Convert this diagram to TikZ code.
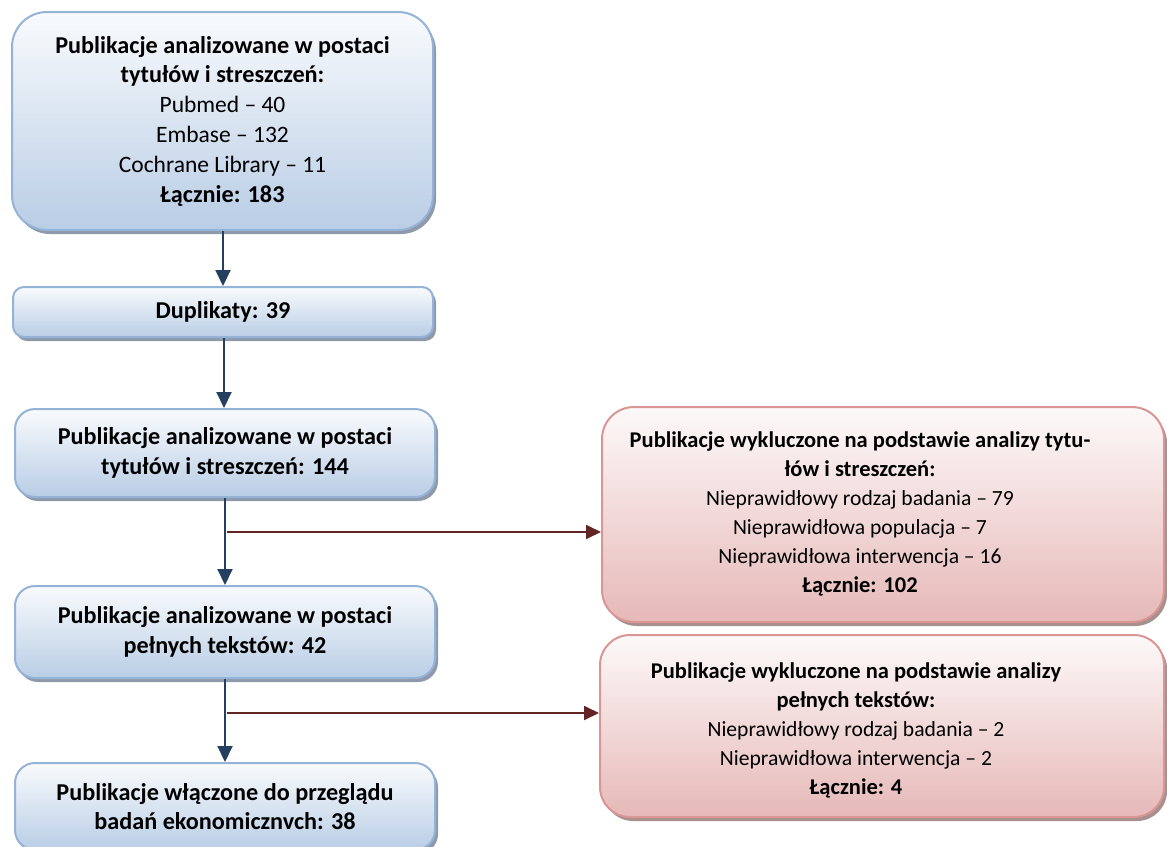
\documentclass[tikz,border=0pt]{standalone}
\usepackage{fontspec}
\setmainfont{Carlito}
\usetikzlibrary{shadows,arrows.meta,calc}
\definecolor{bfill}{HTML}{B9CDE5}
\definecolor{btop}{HTML}{F9FBFD}
\definecolor{bline}{HTML}{95B3D7}
\definecolor{rfill}{HTML}{E6B9B8}
\definecolor{rtop}{HTML}{FDF9F9}
\definecolor{rline}{HTML}{D99694}
\definecolor{barrow}{HTML}{243F60}
\definecolor{rarrow}{HTML}{632523}
\definecolor{bshadow}{HTML}{8E9AAB}
\definecolor{rshadow}{HTML}{A8908F}
\newcommand\blbold[1]{{\fontsize{24.2}{29.8}\selectfont\bfseries #1}}
\newcommand\rdbold[1]{{\fontsize{22.5}{29}\selectfont\bfseries #1}}
\begin{document}
\begin{tikzpicture}[x=1pt,y=-1pt,
  btxt/.style={align=center, inner sep=0pt, font=\fontsize{23.5}{29.8}\selectfont},
  rtxt/.style={align=center, inner sep=0pt, font=\fontsize{21.6}{29}\selectfont},
  bluebox/.style={btxt, draw=bline, line width=2pt, top color=btop, bottom color=bfill,
    drop shadow={shadow xshift=3pt, shadow yshift=-4pt, fill=bshadow, opacity=1}},
  redbox/.style={draw=rline, line width=2pt, top color=rtop, bottom color=rfill, inner sep=0pt,
    drop shadow={shadow xshift=3pt, shadow yshift=-4pt, fill=rshadow, opacity=1}},
  barr/.style={draw=barrow, line width=2pt, -{Triangle[width=15pt,length=16pt]}},
  rarr/.style={draw=rarrow, line width=1.8pt, -{Triangle[width=14pt,length=15pt]}}
]
\useasboundingbox (0,0) rectangle (1167,846);
\fill[white] (0,0) rectangle (1167,846);

\node[bluebox, minimum width=421pt, minimum height=218pt, rounded corners=35pt] (b1) at (222.5,121)
  {\blbold{Publikacje analizowane w postaci}\\ \blbold{tytułów i streszczeń:}\\ Pubmed – 40\\ Embase – 132\\ Cochrane Library – 11\\ \blbold{Łącznie: 183}};
\node[bluebox, minimum width=420pt, minimum height=50pt, rounded corners=11pt] (b2) at (223,312)
  {\blbold{Duplikaty: 39}};
\node[bluebox, minimum width=420pt, minimum height=88pt, rounded corners=20pt] (b3) at (225,453)
  {\blbold{Publikacje analizowane w postaci}\\ \blbold{tytułów i streszczeń: 144}};
\node[bluebox, minimum width=420pt, minimum height=92pt, rounded corners=20pt] (b4) at (225,632)
  {\blbold{Publikacje analizowane w postaci}\\ \blbold{pełnych tekstów: 42}};
\node[bluebox, minimum width=420pt, minimum height=87pt, rounded corners=20pt] (b5) at (225,806.5)
  {\blbold{Publikacje włączone do przeglądu}\\ \blbold{badań ekonomicznvch: 38}};

\node[redbox, minimum width=562pt, minimum height=215pt, rounded corners=32pt] (r1) at (883,514.5) {};
\node[rtxt] (r1t) at (860,514)
  {\rdbold{Publikacje wykluczone na podstawie analizy tytu-}\\ \rdbold{łów i streszczeń:}\\ Nieprawidłowy rodzaj badania – 79\\ Nieprawidłowa populacja – 7\\ Nieprawidłowa interwencja – 16\\ \rdbold{Łącznie: 102}};
\node[redbox, minimum width=564pt, minimum height=182pt, rounded corners=30pt] (r2) at (882,726) {};
\node[rtxt] (r2t) at (856,730)
  {\rdbold{Publikacje wykluczone na podstawie analizy}\\ \rdbold{pełnych tekstów:}\\ Nieprawidłowy rodzaj badania – 2\\ Nieprawidłowa interwencja – 2\\ \rdbold{Łącznie: 4}};

\draw[barr] (b1.south) ++(0.5,0) coordinate (a1) -- (a1 |- b2.north);
\draw[barr] (b2.south) ++(1,0) coordinate (a2) -- (a2 |- b3.north);
\draw[barr] (b3.south) -- (b4.north);
\draw[barr] (b4.south) -- (b5.north);

\coordinate (br1) at (227,532);
\coordinate (br2) at (227,713);
\draw[rarr] (br1) -- (br1 -| r1.west);
\draw[rarr] (br2) -- (br2 -| r2.west);
\end{tikzpicture}
\end{document}
